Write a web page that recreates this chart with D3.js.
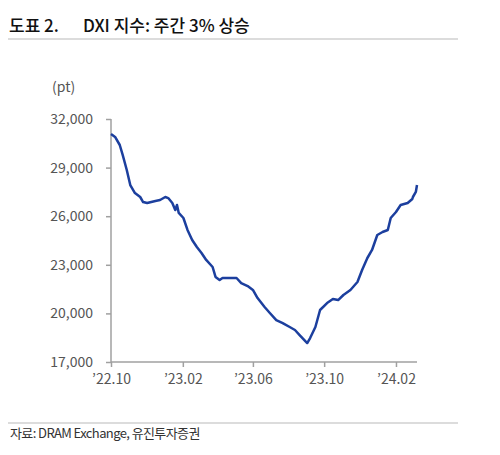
<!DOCTYPE html>
<html>
<head>
<meta charset="utf-8">
<script src="https://cdn.jsdelivr.net/npm/d3@7"></script>
<style>
  body { margin: 0; background: #fff; }
  svg text { font-family: 'Noto Sans CJK KR', 'Noto Sans', sans-serif; }
</style>
</head>
<body>
<div class="content"></div>
<script>
var dates = ['2022-10-01','2022-10-08','2022-10-16','2022-10-21','2022-10-28','2022-11-03','2022-11-11','2022-11-20',
    '2022-11-25','2022-12-02','2022-12-16','2022-12-24','2023-01-02','2023-01-07','2023-01-14','2023-01-19',
    '2023-01-22','2023-01-25','2023-02-02','2023-02-09','2023-02-17','2023-02-25','2023-03-05','2023-03-13',
    '2023-03-24','2023-03-29','2023-04-05','2023-04-10','2023-05-04','2023-05-12','2023-05-23','2023-06-01',
    '2023-06-09','2023-06-21','2023-06-30','2023-07-11','2023-07-22','2023-08-03','2023-08-12','2023-08-20',
    '2023-09-02','2023-09-07','2023-09-16','2023-09-24','2023-10-06','2023-10-16','2023-10-25','2023-11-03',
    '2023-11-15','2023-11-27','2023-12-05','2023-12-14','2023-12-22','2023-12-31','2024-01-09','2024-01-18',
    '2024-01-23','2024-02-01','2024-02-09','2024-02-21','2024-02-29','2024-03-01','2024-03-06','2024-03-08']
var dxi = [31070, 30890, 30395, 29780, 28850, 27925, 27430, 27185,
    26875, 26815, 26940, 27000, 27185, 27120, 26815, 26380,
    26690, 26200, 25890, 25150, 24530, 24100, 23730, 23300,
    22865, 22250, 22060, 22185, 22185, 21875, 21690, 21445,
    20950, 20395, 20025, 19590, 19405, 19160, 18975, 18665,
    18170, 18480, 19160, 20210, 20640, 20890, 20825, 21135,
    21445, 21940, 22680, 23420, 23915, 24840, 25025, 25150,
    25890, 26260, 26690, 26815, 27060, 27185, 27495, 27925]
var yTicks = [17000, 20000, 23000, 26000, 29000, 32000]
var xTicks = ['2022-10-01', '2023-02-01', '2023-06-01', '2023-10-01', '2024-02-01']
var xTickLabels = ['\u201922.10', '\u201923.02', '\u201923.06', '\u201923.10', '\u201924.02']

var parse = d3.timeParse('%Y-%m-%d')
var data = dates.map(function(d, i) { return { date: parse(d), value: dxi[i] } })

var width = 500, height = 455

var svg = d3.select('.content').append('svg')
    .attr('width', width)
    .attr('height', height)

// title
svg.append('text')
    .attr('x', 9).attr('y', 32)
    .style('font-size', '17px').style('font-weight', 500).style('fill', '#111')
    .text('도표 2.')
svg.append('text')
    .attr('x', 83).attr('y', 32)
    .style('font-size', '17px').style('font-weight', 500).style('fill', '#111')
    .text('DXI 지수: 주간 3% 상승')
svg.append('line')
    .attr('x1', 8).attr('x2', 458).attr('y1', 39).attr('y2', 39)
    .style('stroke', '#d0d0d0').style('stroke-width', 1.5)

var x = d3.scaleTime()
    .domain([parse('2022-10-01'), parse('2024-03-08')])
    .range([111, 417])

var y = d3.scaleLinear()
    .domain([17000, 32000])
    .range([362, 119])

var yAxis = svg.append('g')
    .attr('transform', 'translate(111,0)')
    .call(d3.axisLeft(y).tickValues(yTicks).tickSize(5).tickPadding(13)
        .tickFormat(d3.format(',')))
var xAxis = svg.append('g')
    .attr('transform', 'translate(0,362)')
    .call(d3.axisBottom(x).tickValues(xTicks.map(parse)).tickSize(5).tickPadding(7)
        .tickFormat(function(d, i) { return xTickLabels[i] }))

svg.selectAll('.domain, .tick line')
    .style('stroke', '#a0a0a0').style('stroke-width', 1.5)
yAxis.select('.domain').attr('d', 'M0,119V362')
xAxis.select('.domain').attr('d', 'M111,0H417')
svg.selectAll('.tick text')
    .style('font-size', '14px').style('fill', '#555')
    .style('font-family', "'Noto Sans CJK KR', 'Noto Sans', sans-serif")

svg.append('text')
    .attr('x', 52).attr('y', 92)
    .style('font-size', '14px').style('fill', '#555')
    .text('(pt)')

var line = d3.line()
    .x(function(d) { return x(d.date) })
    .y(function(d) { return y(d.value) })

svg.append('path')
    .datum(data)
    .attr('d', line)
    .style('fill', 'none')
    .style('stroke', '#1c3f9e')
    .style('stroke-width', 2.5)
    .style('stroke-linejoin', 'round')

// footer
svg.append('line')
    .attr('x1', 8).attr('x2', 458).attr('y1', 423).attr('y2', 423)
    .style('stroke', '#d0d0d0').style('stroke-width', 1.5)
svg.append('text')
    .attr('x', 10).attr('y', 438)
    .style('font-size', '13px').style('fill', '#333').style('letter-spacing', '-0.6px')
    .text('자료: DRAM Exchange, 유진투자증권')
</script>
</body>
</html>
